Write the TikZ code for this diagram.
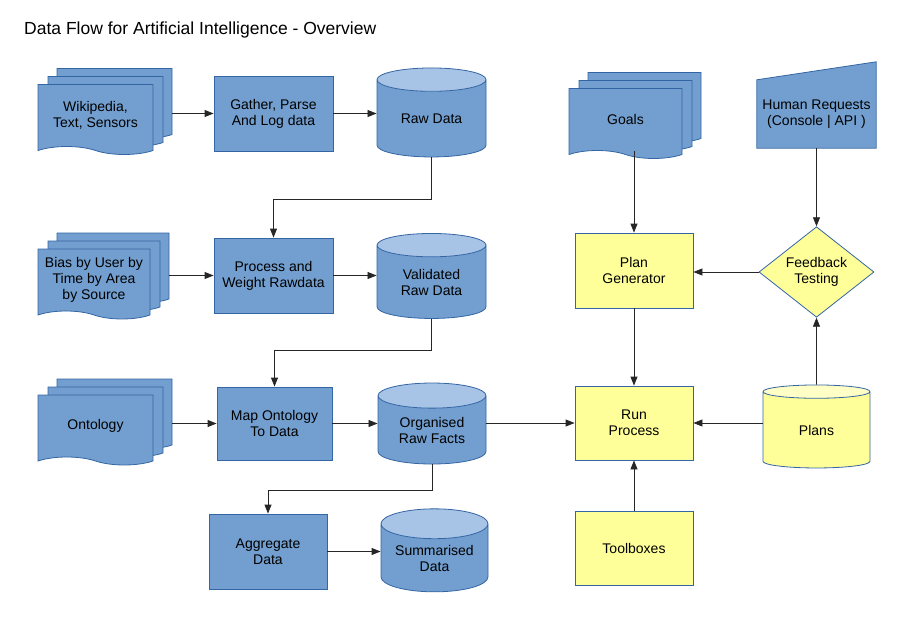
\documentclass[tikz,border=0pt]{standalone}
\usepackage{fontspec}
\setmainfont{Liberation Sans}
\usetikzlibrary{shapes.geometric,shapes.symbols,shadows,arrows.meta}

\definecolor{boxblue}{HTML}{729FCF}
\definecolor{lineblue}{HTML}{3465A4}
\definecolor{topblue}{HTML}{A7C4E6}
\definecolor{boxyellow}{HTML}{FFFF99}
\definecolor{topyellow}{HTML}{FFFFC6}

\begin{document}
\begin{tikzpicture}[x=1pt,y=-1pt,font=\fontsize{14}{16}\selectfont,
                    process/.style={rectangle,draw=lineblue,fill=boxblue,line width=0.8pt,inner sep=0pt,
                                    minimum width=119pt,minimum height=75pt,align=center},
                    task/.style={process,fill=boxyellow},
                    store/.style={cylinder,shape border rotate=90,aspect=0.38,draw=lineblue,line width=0.8pt,
                                  inner sep=0pt,minimum width=109pt,minimum height=85pt,align=center,
                                  cylinder uses custom fill,cylinder body fill=boxblue,cylinder end fill=topblue},
                    docs/.style={tape,tape bend top=none,tape bend bottom=out and in,tape bend height=8pt,
                                 draw=lineblue,fill=boxblue,line width=0.8pt,inner sep=0pt,
                                 minimum width=115pt,minimum height=70pt,align=center,
                                 copy shadow={shadow xshift=19pt,shadow yshift=16pt,draw=lineblue,fill=boxblue,line width=0.8pt},
                                 copy shadow={shadow xshift=10pt,shadow yshift=8pt,draw=lineblue,fill=boxblue,line width=0.8pt}},
                    manual/.style={rectangle,fill=boxblue,inner sep=0pt,minimum width=119pt,minimum height=68pt,align=center},
                    check/.style={diamond,draw=lineblue,fill=boxyellow,line width=0.8pt,inner sep=0pt,
                                  minimum width=115pt,minimum height=88pt,align=center},
                    flow/.style={-{Triangle[length=9pt,width=7pt]},line width=0.8pt,black!85}]
    \useasboundingbox (0,0) rectangle (906,634);

    \node (title) at (24,35) [anchor=base west,inner sep=0pt,font=\fontsize{17.5}{20}\selectfont]
        {Data Flow for Artificial Intelligence - Overview};

    \node (wiki) at (95.5,115.5) [docs] {Wikipedia,\\Text, Sensors};
    \node (gather) at (273.5,113.5) [process] {Gather, Parse\\And Log data};
    \node (raw) at (431.5,118.5) [store,minimum height=89pt] {Raw Data};

    \node (bias) at (94,280) [docs,minimum width=112pt] {Bias by User by\\Time by Area\\by Source};
    \node (weight) at (273.5,275.5) [process] {Process and\\Weight Rawdata};
    \node (valid) at (431.5,282) [store] {Validated\\Raw Data};

    \node (onto) at (95.5,426) [docs] {Ontology};
    \node (mapping) at (274.5,423.5) [process,minimum width=115pt,minimum height=73pt] {Map Ontology\\To Data};
    \node (facts) at (432,430) [store,minimum width=108pt,minimum height=81pt] {Organised\\Raw Facts};

    \node (aggr) at (268,551.5) [process,minimum width=118pt] {Aggregate\\Data};
    \node (summ) at (434.5,558) [store,minimum width=107pt,minimum height=83pt] {Summarised\\Data};

    \node (goals) at (625.5,119.5) [docs,minimum width=113pt] {Goals};
    \node (human) at (816.5,114) [manual] {Human Requests\\(Console | API )};
    \fill [boxblue] (human.north west) -- ([yshift=18pt]human.north east) -- (human.north east) -- cycle;
    \draw [lineblue,line width=0.8pt] (human.south west) -- (human.south east)
        -- ([yshift=18pt]human.north east) -- (human.north west) -- cycle;

    \node (plangen) at (634,270.5) [task,minimum width=118pt] {Plan\\Generator};
    \node (feedback) at (816.5,272) [check] {Feedback\\Testing};
    \node (run) at (634,423) [task,minimum width=118pt,minimum height=74pt] {Run\\Process};
    \node (tools) at (634,548) [task,minimum width=118pt,minimum height=74pt] {Toolboxes};
    \node (plans) at (816.5,430) [store,minimum width=107pt,minimum height=83pt,
                                  cylinder body fill=boxyellow,cylinder end fill=topyellow] {Plans};

    \draw [flow] ([xshift=19pt]gather.west -| wiki.east) to (gather.west);
    \draw [flow] (gather.east) to (gather.east -| raw.west);
    \draw [flow] (raw.south) -- ++(0,42) -| (weight.north);
    \draw [flow] ([xshift=19pt]weight.west -| bias.east) to (weight.west);
    \draw [flow] (weight.east) to (weight.east -| valid.west);
    \draw [flow] (valid.south) -- ++(0,32) -| (mapping.north);
    \draw [flow] ([xshift=19pt]mapping.west -| onto.east) to (mapping.west);
    \draw [flow] (mapping.east) to (mapping.east -| facts.west);
    \draw [flow] (facts.south) -- ++(0,26) -| (aggr.north);
    \draw [flow] (aggr.east) to (aggr.east -| summ.west);
    \draw [flow] (run.west -| facts.east) to (run.west);

    \draw [flow] (plangen.north |- goals.south) to (plangen.north);
    \draw [flow] (human.south) to (feedback.north);
    \draw [flow] (feedback.west) to (feedback.west -| plangen.east);
    \draw [flow] (plangen.south) to (run.north);
    \draw [flow] (tools.north) to (run.south);
    \draw [flow] (plans.north) to (feedback.south);
    \draw [flow] (plans.west |- run.east) to (run.east);
\end{tikzpicture}
\end{document}
